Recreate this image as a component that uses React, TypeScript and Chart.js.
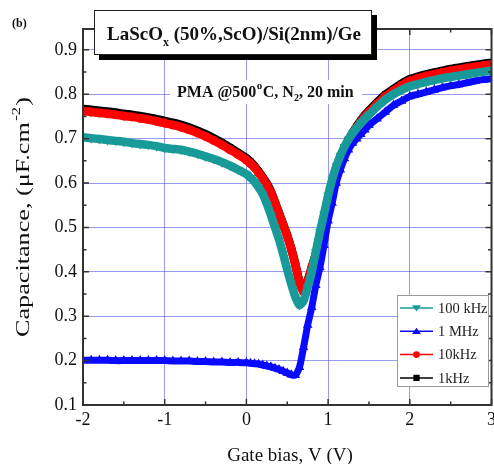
import { useEffect, useRef } from "react";
import { Chart, registerables } from "chart.js";

Chart.register(...registerables);

// ---------- data ----------
const gateBias = [
  -2.0, -1.9, -1.8, -1.7, -1.6, -1.5, -1.4, -1.3, -1.2, -1.1, -1.0, -0.9, -0.8, -0.7, -0.6, -0.5, -0.4, -0.3, -0.2, -0.1,
  0, 0.05, 0.1, 0.15, 0.2, 0.25, 0.3, 0.35, 0.4, 0.45, 0.5, 0.55, 0.6, 0.65, 0.7, 0.75, 0.8, 0.85, 0.9, 0.95,
  1.0, 1.05, 1.1, 1.15, 1.2, 1.25, 1.3, 1.35, 1.4, 1.45, 1.5,
  1.6, 1.7, 1.8, 1.9, 2.0, 2.1, 2.2, 2.3, 2.4, 2.5, 2.6, 2.7, 2.8, 2.9, 3.0,
];

const cap100kHz = [
  0.703, 0.701, 0.699, 0.697, 0.695, 0.693, 0.690, 0.688, 0.686, 0.683, 0.679, 0.677, 0.675, 0.671, 0.666, 0.660, 0.654, 0.647, 0.639, 0.630,
  0.620, 0.612, 0.603, 0.590, 0.575, 0.553, 0.528, 0.500, 0.472, 0.440, 0.405, 0.372, 0.343, 0.325, 0.335, 0.365, 0.400, 0.445, 0.490, 0.530,
  0.572, 0.608, 0.638, 0.662, 0.682, 0.698, 0.712, 0.724, 0.735, 0.745, 0.754,
  0.772, 0.788, 0.800, 0.810, 0.818, 0.823, 0.828, 0.832, 0.836, 0.839, 0.842, 0.845, 0.848, 0.851, 0.853,
];

const cap1MHz = [
  0.201, 0.201, 0.201, 0.201, 0.200, 0.200, 0.200, 0.200, 0.200, 0.200, 0.200, 0.199, 0.199, 0.199, 0.198, 0.198, 0.197, 0.197, 0.196, 0.196,
  0.195, 0.194, 0.193, 0.192, 0.190, 0.188, 0.186, 0.183, 0.180, 0.176, 0.172, 0.168, 0.167, 0.185, 0.230, 0.280, 0.320, 0.370, 0.410, 0.460,
  0.515, 0.555, 0.600, 0.630, 0.655, 0.675, 0.690, 0.700, 0.710, 0.720, 0.730,
  0.745, 0.760, 0.775, 0.785, 0.795, 0.800, 0.805, 0.810, 0.815, 0.819, 0.822, 0.826, 0.830, 0.833, 0.835,
];

const cap10kHz = [
  0.762, 0.760, 0.758, 0.756, 0.754, 0.751, 0.749, 0.746, 0.743, 0.739, 0.735, 0.731, 0.726, 0.720, 0.713, 0.705, 0.696, 0.686, 0.675, 0.664,
  0.652, 0.644, 0.635, 0.623, 0.610, 0.596, 0.578, 0.555, 0.530, 0.505, 0.480, 0.450, 0.415, 0.375, 0.355, 0.380, 0.410, 0.440, 0.475, 0.515,
  0.555, 0.595, 0.625, 0.655, 0.675, 0.695, 0.710, 0.725, 0.738, 0.750, 0.760,
  0.778, 0.795, 0.808, 0.820, 0.830, 0.836, 0.841, 0.845, 0.849, 0.853, 0.856, 0.859, 0.862, 0.865, 0.867,
];

const cap1kHz = [
  0.767, 0.765, 0.763, 0.761, 0.759, 0.756, 0.754, 0.751, 0.748, 0.744, 0.740, 0.736, 0.731, 0.725, 0.718, 0.710, 0.701, 0.691, 0.680, 0.668,
  0.656, 0.648, 0.638, 0.626, 0.613, 0.599, 0.581, 0.557, 0.532, 0.507, 0.482, 0.452, 0.417, 0.377, 0.356, 0.380, 0.410, 0.440, 0.475, 0.515,
  0.556, 0.596, 0.627, 0.657, 0.678, 0.698, 0.713, 0.728, 0.741, 0.753, 0.763,
  0.782, 0.799, 0.812, 0.824, 0.834, 0.840, 0.845, 0.849, 0.853, 0.857, 0.860, 0.863, 0.866, 0.869, 0.871,
];

const seriesNames = ["100 kHz", "1 MHz", "10kHz", "1kHz"];
const seriesValues = [cap100kHz, cap1MHz, cap10kHz, cap1kHz];
const seriesColors = ["#189a98", "#0a0aff", "#ff0000", "#000000"];
const seriesMarkers = ["down", "up", "circle", "square"];

const xTickValues = [-2, -1, 0, 1, 2, 3];
const yTickValues = [0.1, 0.2, 0.3, 0.4, 0.5, 0.6, 0.7, 0.8, 0.9];

const SERIF = '"Liberation Serif", "Times New Roman", serif';
const GRID = "rgba(110,110,230,0.7)";

function drawMarker(ctx: CanvasRenderingContext2D, kind: string, x: number, y: number, r: number) {
  ctx.beginPath();
  if (kind === "down") {
    ctx.moveTo(x - r, y - r * 0.6);
    ctx.lineTo(x + r, y - r * 0.6);
    ctx.lineTo(x, y + r * 0.8);
  } else if (kind === "up") {
    ctx.moveTo(x - r, y + r * 0.6);
    ctx.lineTo(x + r, y + r * 0.6);
    ctx.lineTo(x, y - r * 0.8);
  } else if (kind === "circle") {
    ctx.arc(x, y, r * 0.75, 0, Math.PI * 2);
  } else {
    ctx.rect(x - r * 0.7, y - r * 0.7, r * 1.4, r * 1.4);
  }
  ctx.closePath();
  ctx.fill();
}

const decorPlugin = {
  id: "decor",
  afterDatasetsDraw(chart: any) {
    const ctx: CanvasRenderingContext2D = chart.ctx;
    const { left, right, top, bottom } = chart.chartArea;
    const xs = chart.scales.x;
    const ys = chart.scales.y;
    ctx.save();
    ctx.strokeStyle = "#333";
    ctx.lineWidth = 2;
    ctx.beginPath();
    ctx.moveTo(left, top);
    ctx.lineTo(left, bottom);
    ctx.lineTo(right, bottom);
    ctx.lineTo(right, top);
    ctx.closePath();
    ctx.stroke();
    ctx.lineWidth = 1.5;
    ctx.beginPath();
    for (let i = 0; i < xTickValues.length; i++) {
      const v = xTickValues[i];
      const px = xs.getPixelForValue(v);
      ctx.moveTo(px, bottom);
      ctx.lineTo(px, bottom - 6);
      ctx.moveTo(px, top);
      ctx.lineTo(px, top + 6);
      if (i < xTickValues.length - 1) {
        const pm = xs.getPixelForValue(v + 0.5);
        ctx.moveTo(pm, bottom);
        ctx.lineTo(pm, bottom - 3.5);
        ctx.moveTo(pm, top);
        ctx.lineTo(pm, top + 3.5);
      }
    }
    for (let i = 0; i < yTickValues.length; i++) {
      const v = yTickValues[i];
      const py = ys.getPixelForValue(v);
      ctx.moveTo(left, py);
      ctx.lineTo(left + 6, py);
      ctx.moveTo(right, py);
      ctx.lineTo(right - 6, py);
      const pm = ys.getPixelForValue(v + 0.05);
      if (pm > top) {
        ctx.moveTo(left, pm);
        ctx.lineTo(left + 3.5, pm);
        ctx.moveTo(right, pm);
        ctx.lineTo(right - 3.5, pm);
      }
    }
    ctx.stroke();
    ctx.restore();
  },
  afterDraw(chart: any) {
    const ctx: CanvasRenderingContext2D = chart.ctx;
    ctx.save();
    ctx.fillStyle = "#111";
    ctx.textAlign = "left";
    ctx.textBaseline = "alphabetic";

    // (b)
    ctx.font = `bold 12px ${SERIF}`;
    ctx.fillText("(b)", 12, 27);

    // title box with shadow
    ctx.fillStyle = "#000";
    ctx.fillRect(99, 15, 278, 45);
    ctx.fillStyle = "#fff";
    ctx.fillRect(94, 10, 278, 45);
    ctx.strokeStyle = "#222";
    ctx.lineWidth = 1;
    ctx.strokeRect(94.5, 10.5, 277, 44);
    ctx.fillStyle = "#111";
    let x = 107;
    ctx.font = `bold 19px ${SERIF}`;
    ctx.fillText("LaScO", x, 40);
    x += ctx.measureText("LaScO").width;
    ctx.font = `bold 12px ${SERIF}`;
    ctx.fillText("x", x, 46);
    x += ctx.measureText("x").width;
    ctx.font = `bold 19px ${SERIF}`;
    ctx.fillText(" (50%,ScO)/Si(2nm)/Ge", x, 40);

    // PMA annotation
    ctx.fillStyle = "#fff";
    ctx.fillRect(170, 80, 192, 24);
    ctx.fillStyle = "#111";
    x = 177;
    const base = 97;
    ctx.font = `bold 16px ${SERIF}`;
    ctx.fillText("PMA @500", x, base);
    x += ctx.measureText("PMA @500").width;
    ctx.font = `bold 11px ${SERIF}`;
    ctx.fillText("o", x + 0.5, base - 8);
    x += ctx.measureText("o").width + 1;
    ctx.font = `bold 16px ${SERIF}`;
    ctx.fillText("C, N", x, base);
    x += ctx.measureText("C, N").width;
    ctx.font = `bold 10px ${SERIF}`;
    ctx.fillText("2", x, base + 4);
    x += ctx.measureText("2").width;
    ctx.font = `bold 16px ${SERIF}`;
    ctx.fillText(", 20 min", x, base);

    // y axis title (stretched along its length to match the reference)
    ctx.save();
    ctx.translate(29, 337);
    ctx.rotate(-Math.PI / 2);
    const t1 = "Capacitance, (\u03bcF.cm";
    ctx.font = `19px ${SERIF}`;
    const w1 = ctx.measureText(t1).width;
    const wp = ctx.measureText(")").width;
    ctx.font = `12px ${SERIF}`;
    const ws = ctx.measureText("-2").width;
    const total = w1 + ws + 2 + wp;
    ctx.scale(240 / total, 1);
    ctx.font = `19px ${SERIF}`;
    ctx.fillText(t1, 0, 0);
    ctx.font = `12px ${SERIF}`;
    ctx.fillText("-2", w1 + 1, -9);
    ctx.font = `19px ${SERIF}`;
    ctx.fillText(")", w1 + ws + 2, 0);
    ctx.restore();

    // x axis title
    ctx.font = `19px ${SERIF}`;
    ctx.textAlign = "center";
    ctx.fillText("Gate bias, V (V)", 290, 461);
    ctx.textAlign = "left";

    // legend
    ctx.fillStyle = "#fff";
    ctx.fillRect(397, 295, 92, 92);
    ctx.strokeStyle = "#9a9a9a";
    ctx.lineWidth = 1;
    ctx.strokeRect(397.5, 295.5, 91, 91);
    for (let i = 0; i < seriesNames.length; i++) {
      const cy = 308 + i * 23.3;
      ctx.strokeStyle = seriesColors[i];
      ctx.fillStyle = seriesColors[i];
      ctx.lineWidth = 1.5;
      ctx.beginPath();
      ctx.moveTo(400, cy);
      ctx.lineTo(433, cy);
      ctx.stroke();
      drawMarker(ctx, seriesMarkers[i], 416.5, cy, 4.5);
      ctx.fillStyle = "#222";
      ctx.font = `14.5px ${SERIF}`;
      ctx.textBaseline = "middle";
      ctx.fillText(seriesNames[i], 438, cy + 1);
      ctx.textBaseline = "alphabetic";
    }
    ctx.restore();
  },
};

export default function App() {
  const ref = useRef<HTMLCanvasElement | null>(null);

  useEffect(() => {
    if (!ref.current) return;
    const pointStyles: any = { down: "triangle", up: "triangle", circle: "circle", square: "rect" };
    const datasets = seriesNames.map((name, i) => ({
      label: name,
      data: gateBias.map((g, k) => ({ x: g, y: seriesValues[i][k] })),
      borderColor: seriesColors[i],
      backgroundColor: seriesColors[i],
      borderWidth: seriesMarkers[i] === "up" ? 7 : 8.5,
      showLine: true,
      tension: 0.2,
      pointStyle: pointStyles[seriesMarkers[i]],
      pointRotation: seriesMarkers[i] === "down" ? 180 : 0,
      pointRadius: seriesMarkers[i] === "square" || seriesMarkers[i] === "circle" ? 4.5 : 5.5,
      pointBorderWidth: 0,
      pointBackgroundColor: seriesColors[i],
      pointBorderColor: seriesColors[i],
    }));

    const chart = new Chart(ref.current, {
      type: "scatter",
      data: { datasets },
      plugins: [decorPlugin],
      options: {
        animation: false,
        responsive: false,
        devicePixelRatio: 1,
        events: [],
        layout: { padding: { left: 0, top: 29, right: 4.5, bottom: 0 } },
        plugins: { legend: { display: false }, tooltip: { enabled: false } },
        scales: {
          x: {
            type: "linear",
            min: -2,
            max: 3,
            afterBuildTicks: (s: any) => {
              s.ticks = xTickValues.map((v) => ({ value: v }));
            },
            afterFit: (s: any) => {
              s.height = 59;
            },
            grid: { color: GRID, lineWidth: 1, drawTicks: false },
            border: { display: false },
            ticks: {
              color: "#111",
              padding: 4,
              maxRotation: 0,
              font: { family: SERIF, size: 18 },
              callback: (v: any) => String(v),
            },
          },
          y: {
            type: "linear",
            min: 0.1,
            max: 0.947,
            afterBuildTicks: (s: any) => {
              s.ticks = yTickValues.map((v) => ({ value: v }));
            },
            afterFit: (s: any) => {
              s.width = 83;
            },
            grid: { color: GRID, lineWidth: 1, drawTicks: false },
            border: { display: false },
            ticks: {
              color: "#111",
              padding: 6,
              font: { family: SERIF, size: 18 },
              callback: (v: any) => Number(v).toFixed(1),
            },
          },
        },
      } as any,
    });
    return () => chart.destroy();
  }, []);

  return (
    <div style={{ position: "absolute", left: 0, top: 0, width: 494, height: 464, overflow: "hidden", background: "#fff" }}>
      <canvas ref={ref} width={500} height={464} style={{ display: "block", width: 500, height: 464 }} />
    </div>
  );
}
